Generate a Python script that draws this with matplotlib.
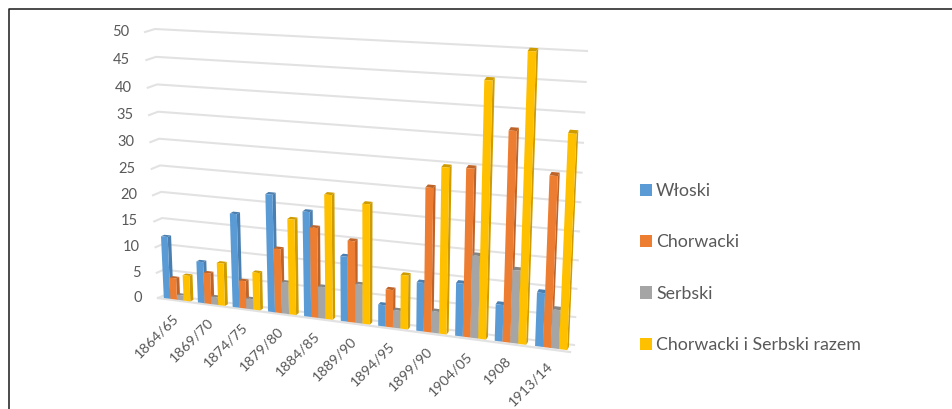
import numpy as np
import matplotlib
matplotlib.use('Agg')
import matplotlib.pyplot as plt
from matplotlib.patches import Patch, Polygon
from matplotlib.transforms import Transform

plt.rcParams['font.family'] = ['Lato', 'DejaVu Sans']

okresy = ['1864/65', '1869/70', '1874/75', '1879/80', '1884/85', '1889/90',
          '1894/95', '1899/90', '1904/05', '1908', '1913/14']
wloski = [12.1, 8.0, 17.9, 22.2, 19.7, 12.2, 4.0, 9.0, 9.7, 6.7, 9.7]
chorwacki = [4.2, 6.0, 5.3, 12.2, 16.9, 15.2, 7.0, 26.2, 30.2, 37.2, 30.2]
serbski = [1.0, 1.5, 2.0, 6.0, 6.0, 7.3, 3.3, 4.0, 15.0, 13.2, 7.0]
razem = [5.0, 8.2, 7.2, 18.0, 23.2, 22.2, 10.0, 30.0, 45.3, 50.5, 37.5]
serie = ['Włoski', 'Chorwacki', 'Serbski', 'Chorwacki i Serbski razem']
wartosci_osi = [0, 5, 10, 15, 20, 25, 30, 35, 40, 45, 50]

kolory = ['#5B9BD5', '#ED7D31', '#A5A5A5', '#FFC000']
boki = ['#4A7FB0', '#BF6428', '#858585', '#CF9C00']
TEKST = '#595959'
SIATKA = '#E2E2E2'


class Rzut(Transform):
    # perspective map from (category, value) to pixels for one depth plane
    input_dims = 2
    output_dims = 2
    is_separable = False
    has_inverse = False

    def __init__(self, rogi, xmax, ymax):
        super().__init__()
        src = [(0, 0), (xmax, 0), (0, ymax), (xmax, ymax)]
        A, b = [], []
        for (x, y), (u, v) in zip(src, rogi):
            A.append([x, y, 1, 0, 0, 0, -u * x, -u * y])
            A.append([0, 0, 0, x, y, 1, -v * x, -v * y])
            b += [u, v]
        self.h = np.append(np.linalg.solve(np.array(A, float), np.array(b, float)), 1).reshape(3, 3)

    def transform_non_affine(self, values):
        p = np.column_stack([values, np.ones(len(values))]) @ self.h.T
        return p[:, :2] / p[:, 2:]


n = len(okresy)
tyl = Rzut([(165, 295), (574, 345), (155, 29), (587, 51)], n, 50)
przod = Rzut([(158, 298), (570, 352), (145, 32), (583, 59)], n, 50)


def plaszczyzna(glebokosc):
    # plane between the front (0) and the back wall (1) of the plot box
    class P:
        @staticmethod
        def transform(pts):
            pts = np.atleast_2d(pts)
            return przod.transform(pts) * (1 - glebokosc) + tyl.transform(pts) * glebokosc
    return P


fig = plt.figure(figsize=(9.52, 4.09), dpi=100)
ax = fig.add_axes([0, 0, 1, 1])
ax.set_xlim(0, 952)
ax.set_ylim(409, 0)
ax.axis('off')

# frame: only the top and left edges are drawn
ax.plot([9, 9, 952], [409, 9, 9], color='#1a1a1a', lw=1.1, zorder=1)

# gridlines on the back wall with their short return on the side wall
for w in wartosci_osi:
    a = przod.transform(np.array([[0, w]], float))[0]
    b = tyl.transform(np.array([[0, w]], float))[0]
    c = tyl.transform(np.array([[n, w]], float))[0]
    ax.plot([a[0], b[0], c[0]], [a[1], b[1], c[1]], color=SIATKA, lw=1.5, zorder=2)
    ax.text(a[0] - 16, a[1], str(w), ha='right', va='center', color=TEKST, fontsize=10.5)

# floor edge
a, b = przod.transform(np.array([[0, 0], [n, 0]], float))
ax.plot([a[0], b[0]], [a[1], b[1]], color=SIATKA, lw=1.6, zorder=2)

szer = 0.195
d0, d1 = plaszczyzna(0.2), plaszczyzna(0.65)
z = 3
for i in range(n):
    for k, s in enumerate([wloski, chorwacki, serbski, razem]):
        x0 = i + 0.52 + (k - 2) * szer
        x1 = x0 + szer
        w = s[i]
        f = d0.transform([[x0, 0], [x1, 0], [x1, w], [x0, w]])
        g = d1.transform([[x0, 0], [x1, 0], [x1, w], [x0, w]])
        # right side, top, then the front face
        ax.add_patch(Polygon([f[1], g[1], g[2], f[2]], fc=boki[k], ec='none', zorder=z))
        ax.add_patch(Polygon([f[3], f[2], g[2], g[3]], fc=boki[k], ec='none', zorder=z))
        ax.add_patch(Polygon(f, fc=kolory[k], ec='none', zorder=z))
        z += 0.01
    p = d0.transform([[i + 0.5, 0]])[0]
    ax.text(p[0] - 4, p[1] + 12, okresy[i], rotation=45, rotation_mode='anchor',
            ha='right', va='top', color=TEKST, fontsize=10.3)

uchwyty = [Patch(fc=c, ec='none') for c in kolory]
ax.legend(uchwyty, serie, loc='upper left', bbox_to_anchor=(640 / 952, 1 - 183 / 409),
          frameon=False, fontsize=12.8, labelcolor=TEKST, handlelength=0.68, handleheight=0.68,
          handletextpad=0.22, labelspacing=1.99, borderpad=0, borderaxespad=0)

fig.savefig('out.png', dpi=100)
